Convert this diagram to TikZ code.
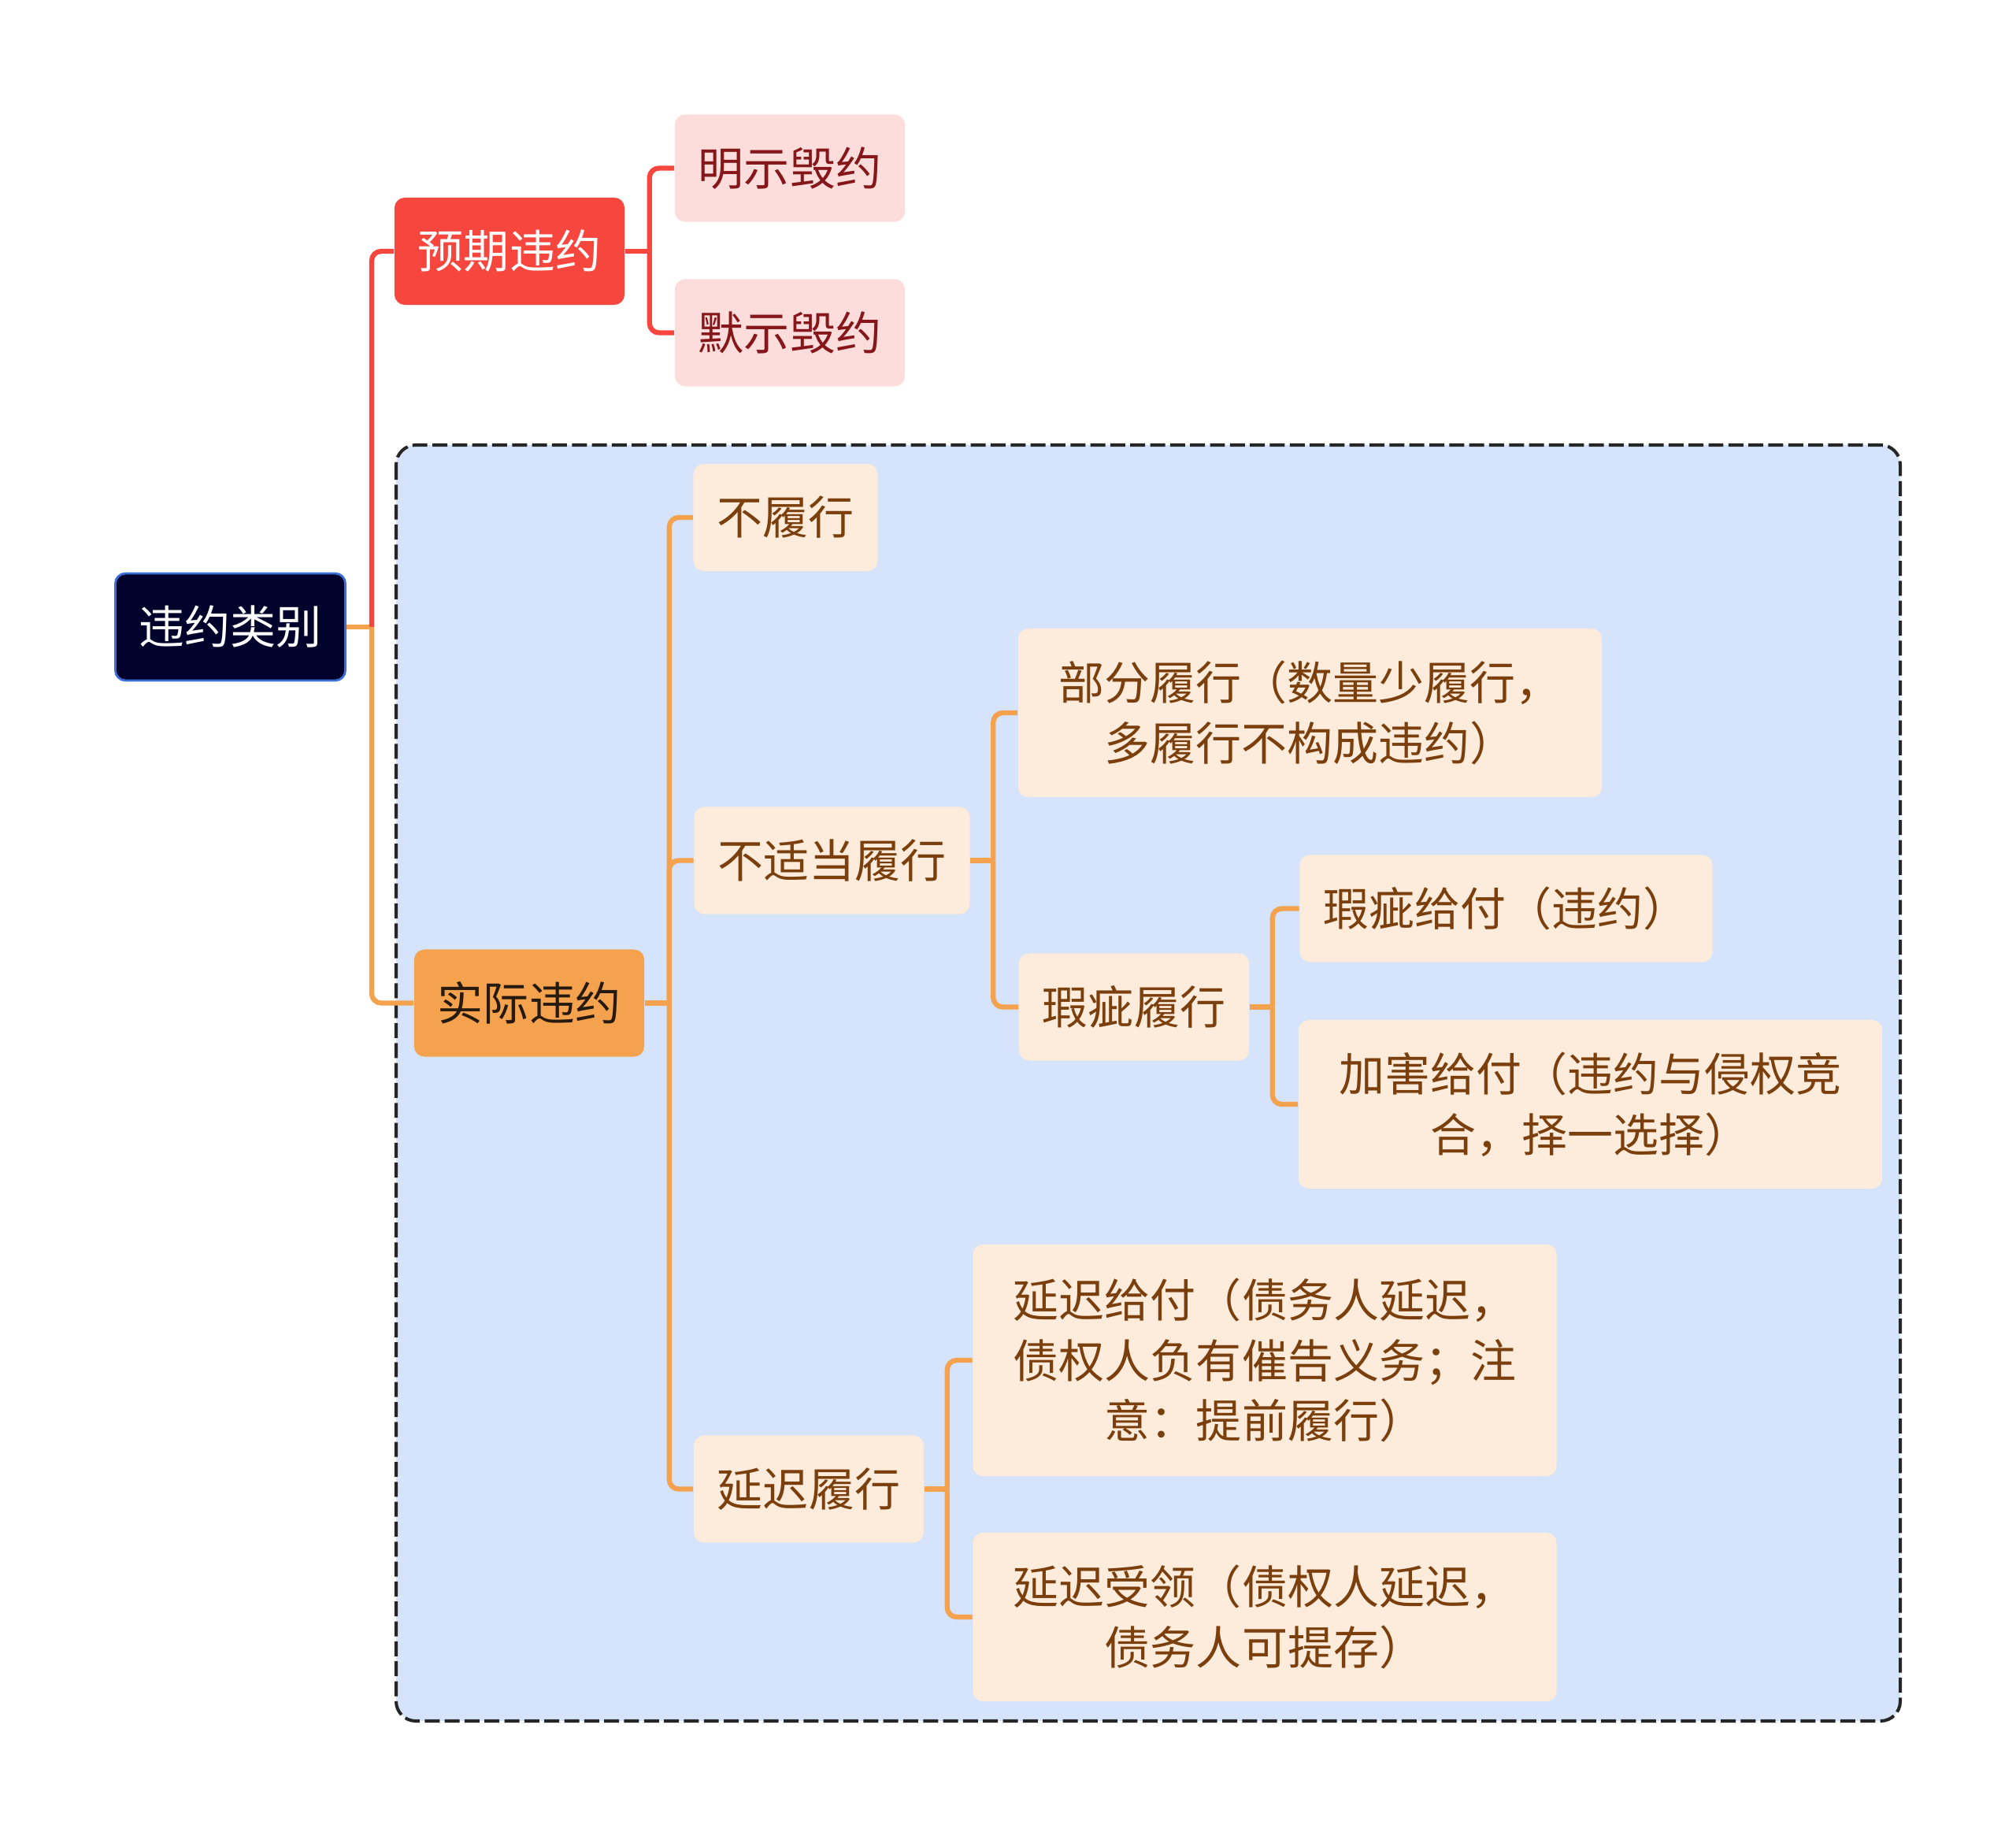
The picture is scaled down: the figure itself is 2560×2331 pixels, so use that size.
\documentclass[tikz,border=0pt]{standalone}
\usepackage{fontspec}
\newfontfamily\cjk{Noto Sans CJK SC}
\usetikzlibrary{positioning,calc}
\definecolor{rootfill}{HTML}{00022B}
\definecolor{rootdraw}{HTML}{3C6FD3}
\definecolor{redfill}{HTML}{F7463D}
\definecolor{pinkfill}{HTML}{FDDCDC}
\definecolor{pinktext}{HTML}{85161A}
\definecolor{orangefill}{HTML}{F5A24E}
\definecolor{beigefill}{HTML}{FDEBDB}
\definecolor{browntext}{HTML}{7A3F0C}
\definecolor{bluebg}{HTML}{D5E3FB}
\definecolor{framedraw}{HTML}{262626}

\begin{document}
\begin{tikzpicture}
[x=0.01cm,y=-0.01cm,
box/.style={rectangle,rounded corners=0.13cm,inner xsep=0.3cm,minimum height=1.36cm,
  font=\cjk\fontsize{16.5}{21.8}\selectfont,align=center},
root/.style={box,fill=rootfill,draw=rootdraw,line width=0.8pt,text=white},
mainred/.style={box,fill=redfill,text=white},
subred/.style={box,fill=pinkfill,text=pinktext},
mainorange/.style={box,fill=orangefill,text=black!80!brown},
leaf/.style={box,fill=beigefill,text=browntext},
wide/.style={minimum width=7.41cm,minimum height=#1},
redline/.style={draw=redfill,line width=1.8pt,rounded corners=0.12cm},
orangeline/.style={draw=orangefill,line width=1.8pt,rounded corners=0.12cm}]
\useasboundingbox (0,0) rectangle (2560,2331);

% group frame
\draw[fill=bluebg,draw=framedraw,line width=1.15pt,dash pattern=on 5.4pt off 1.8pt,
  rounded corners=0.25cm] (503,565) rectangle (2413,2185);

% nodes
\node[root] (root) at (292.5,796) {违约类别};
\node[mainred] (yuqi) at (647,319) {预期违约};
\node[subred] (mingshi) at (1003,213.5) {明示毁约};
\node[subred] (moshi) at (1003,422.5) {默示毁约};
\node[mainorange] (shiji) at (672,1273.5) {实际违约};
\node[leaf] (buluxing) at (997.5,657) {不履行};
\node[leaf] (budangdang) at (1056.5,1092.5) {不适当履行};
\node[leaf,wide=2.14cm] (bufen) at (1663.5,905) {部分履行（数量少履行，\\多履行不构成违约）};
\node[leaf] (xiaci) at (1440,1278.5) {瑕疵履行};
\node[leaf] (xiacigf) at (1912.5,1153.5) {瑕疵给付（违约）};
\node[leaf,wide=2.14cm] (jiahai) at (2019.5,1402) {加害给付（违约与侵权竞\\合，择一选择）};
\node[leaf] (yanchi) at (1027,1890.5) {延迟履行};
\node[leaf,wide=2.94cm] (yanchigf) at (1606,1727) {延迟给付（债务人延迟，\\债权人负有催告义务；注\\意：提前履行）};
\node[leaf,wide=2.14cm] (yanchisl) at (1606,2053) {延迟受领（债权人延迟，\\债务人可提存）};

% connectors
\coordinate (rootj) at ([xshift=0.32cm]root.east);
\coordinate (yuqij) at ([xshift=0.31cm]yuqi.east);
\coordinate (shijij) at ([xshift=0.31cm]shiji.east);
\coordinate (budangj) at ([xshift=0.29cm]budangdang.east);
\coordinate (xiacij) at ([xshift=0.29cm]xiaci.east);
\coordinate (yanchij) at ([xshift=0.29cm]yanchi.east);

\draw[orangeline] (root.east) -- (rootj);
\draw[redline] (rootj) |- (yuqi.west);
\draw[orangeline] (rootj) |- (shiji.west);

\draw[redline] (yuqi.east) -- (yuqij);
\draw[redline] (yuqij) |- (mingshi.west);
\draw[redline] (yuqij) |- (moshi.west);

\draw[orangeline] (shiji.east) -- (shijij);
\draw[orangeline] (shijij) |- (buluxing.west);
\draw[orangeline] (shijij) |- (budangdang.west);
\draw[orangeline] (shijij) |- (yanchi.west);

\draw[orangeline] (budangdang.east) -- (budangj);
\draw[orangeline] (budangj) |- (bufen.west);
\draw[orangeline] (budangj) |- (xiaci.west);

\draw[orangeline] (xiaci.east) -- (xiacij);
\draw[orangeline] (xiacij) |- (xiacigf.west);
\draw[orangeline] (xiacij) |- (jiahai.west);

\draw[orangeline] (yanchi.east) -- (yanchij);
\draw[orangeline] (yanchij) |- (yanchigf.west);
\draw[orangeline] (yanchij) |- (yanchisl.west);
\end{tikzpicture}
\end{document}
